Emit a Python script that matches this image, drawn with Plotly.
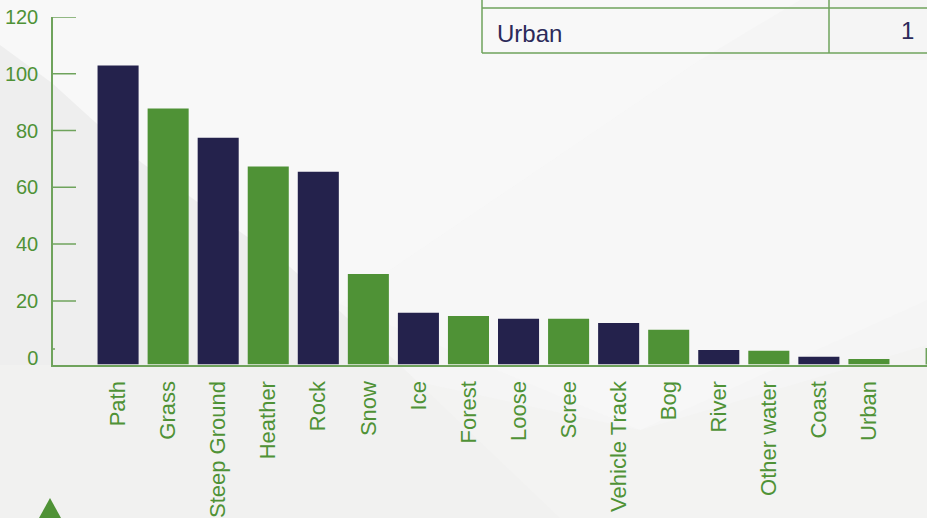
import plotly.graph_objects as go

categories = ["Path", "Grass", "Steep Ground", "Heather", "Rock", "Snow", "Ice", "Forest",
              "Loose", "Scree", "Vehicle Track", "Bog", "River", "Other water", "Coast", "Urban"]
values = [102.9, 87.8, 77.5, 67.3, 65.5, 29.5, 15.8, 14.7, 13.7, 13.7, 12.2, 9.8, 2.7, 2.4, 0.3, -0.5]
bar_colors = ["#24224c", "#4f9236"]
y_ticks = [0, 20, 40, 60, 80, 100, 120]
table_label = "Urban"
table_value = "1"

W, H = 927, 518
GREEN = "#4f9236"
NAVY = "#2c2a5a"
AXIS_FLOOR = -2.4
LINE = "#6fa35c"

def px(x): return x / W
def py(y): return 1 - y / H

colors = [bar_colors[i % 2] for i in range(len(categories))]

fig = go.Figure(go.Bar(
    x=categories, y=[v - AXIS_FLOOR for v in values], base=AXIS_FLOOR,
    marker=dict(color=colors, line=dict(width=0)), width=0.82,
))

def poly(points, fill):
    path = "M " + " L ".join(f"{px(a)} {py(b)}" for a, b in points) + " Z"
    return dict(type="path", xref="paper", yref="paper", path=path, fillcolor=fill,
                line=dict(width=0), layer="below")

def hline(x0, x1, y, color=LINE, width=1.5):
    return dict(type="line", xref="paper", yref="paper", x0=px(x0), x1=px(x1), y0=py(y), y1=py(y),
                line=dict(color=color, width=width), layer="above")

def vline(x, y0, y1, color=LINE, width=1.5):
    return dict(type="line", xref="paper", yref="paper", x0=px(x), x1=px(x), y0=py(y0), y1=py(y1),
                line=dict(color=color, width=width), layer="above")

shapes = [
    poly([(0, 0), (927, 0), (927, 518), (0, 518)], "#f5f5f5"),
    poly([(0, 130), (340, 304), (700, 60), (800, 0), (0, 0)], "#f8f8f8"),
    poly([(340, 304), (700, 60), (927, 60), (927, 300), (640, 430)], "#f7f7f7"),
    poly([(0, 365), (340, 365), (640, 430), (927, 345), (927, 518), (0, 518)], "#f3f3f2"),
    poly([(0, 45), (52, 83), (95, 122), (142, 163), (290, 267), (400, 365), (0, 365)], "#eeeeee"),
    poly([(0, 365), (400, 365), (560, 518), (0, 518)], "#f1f1f0"),
    poly([(39, 518), (50, 498), (61, 518)], GREEN),
    hline(482, 927, 8), hline(482, 927, 53),
    vline(482, 0, 53), vline(829, 0, 53),
    vline(926.3, 348, 364.5),
    dict(type="line", xref="paper", yref="paper", x0=px(52), x1=px(55), y0=py(349), y1=py(349),
         line=dict(color=LINE, width=1.5)),
]
for t in y_ticks[1:]:
    shapes.append(dict(type="line", xref="paper", yref="y", x0=px(52), x1=px(76), y0=t, y1=t,
                       line=dict(color=LINE, width=1.5), layer="above"))

fig.update_layout(
    width=W, height=H, autosize=False, showlegend=False,
    margin=dict(l=0, r=0, t=0, b=0),
    paper_bgcolor="#f5f5f5", plot_bgcolor="rgba(0,0,0,0)",
    font=dict(family="Liberation Sans", color=GREEN, size=20),
    shapes=shapes,
    xaxis=dict(domain=[px(53), 1], range=[-1.3, 16.16], type="category", showgrid=False,
               automargin=False, tickangle=-90, ticks="", showline=True, linecolor=LINE, linewidth=1.5,
               ticklabelstandoff=6, tickfont=dict(size=22, color=GREEN), anchor="y",
               categoryorder="array", categoryarray=categories),
    yaxis=dict(domain=[py(364.5), py(17)], range=[AXIS_FLOOR, 120], showgrid=False, zeroline=False,
               automargin=False, tickvals=y_ticks, ticks="", ticklabelstandoff=9,
               showline=True, linecolor=LINE, linewidth=1.5, tickfont=dict(size=20, color=GREEN)),
    annotations=[
        dict(text=table_label, xref="paper", yref="paper", x=px(497), y=py(34), xanchor="left", yanchor="middle",
             showarrow=False, font=dict(size=24, color=NAVY), xshift=-2),
        dict(text=table_value, xref="paper", yref="paper", x=px(916), y=py(31), xanchor="right", yanchor="middle",
             showarrow=False, font=dict(size=24, color=NAVY)),
    ],
)
fig.write_html("out.html", config={"displayModeBar": False},
               post_script="document.body.style.margin='0';document.body.style.overflow='hidden';")
